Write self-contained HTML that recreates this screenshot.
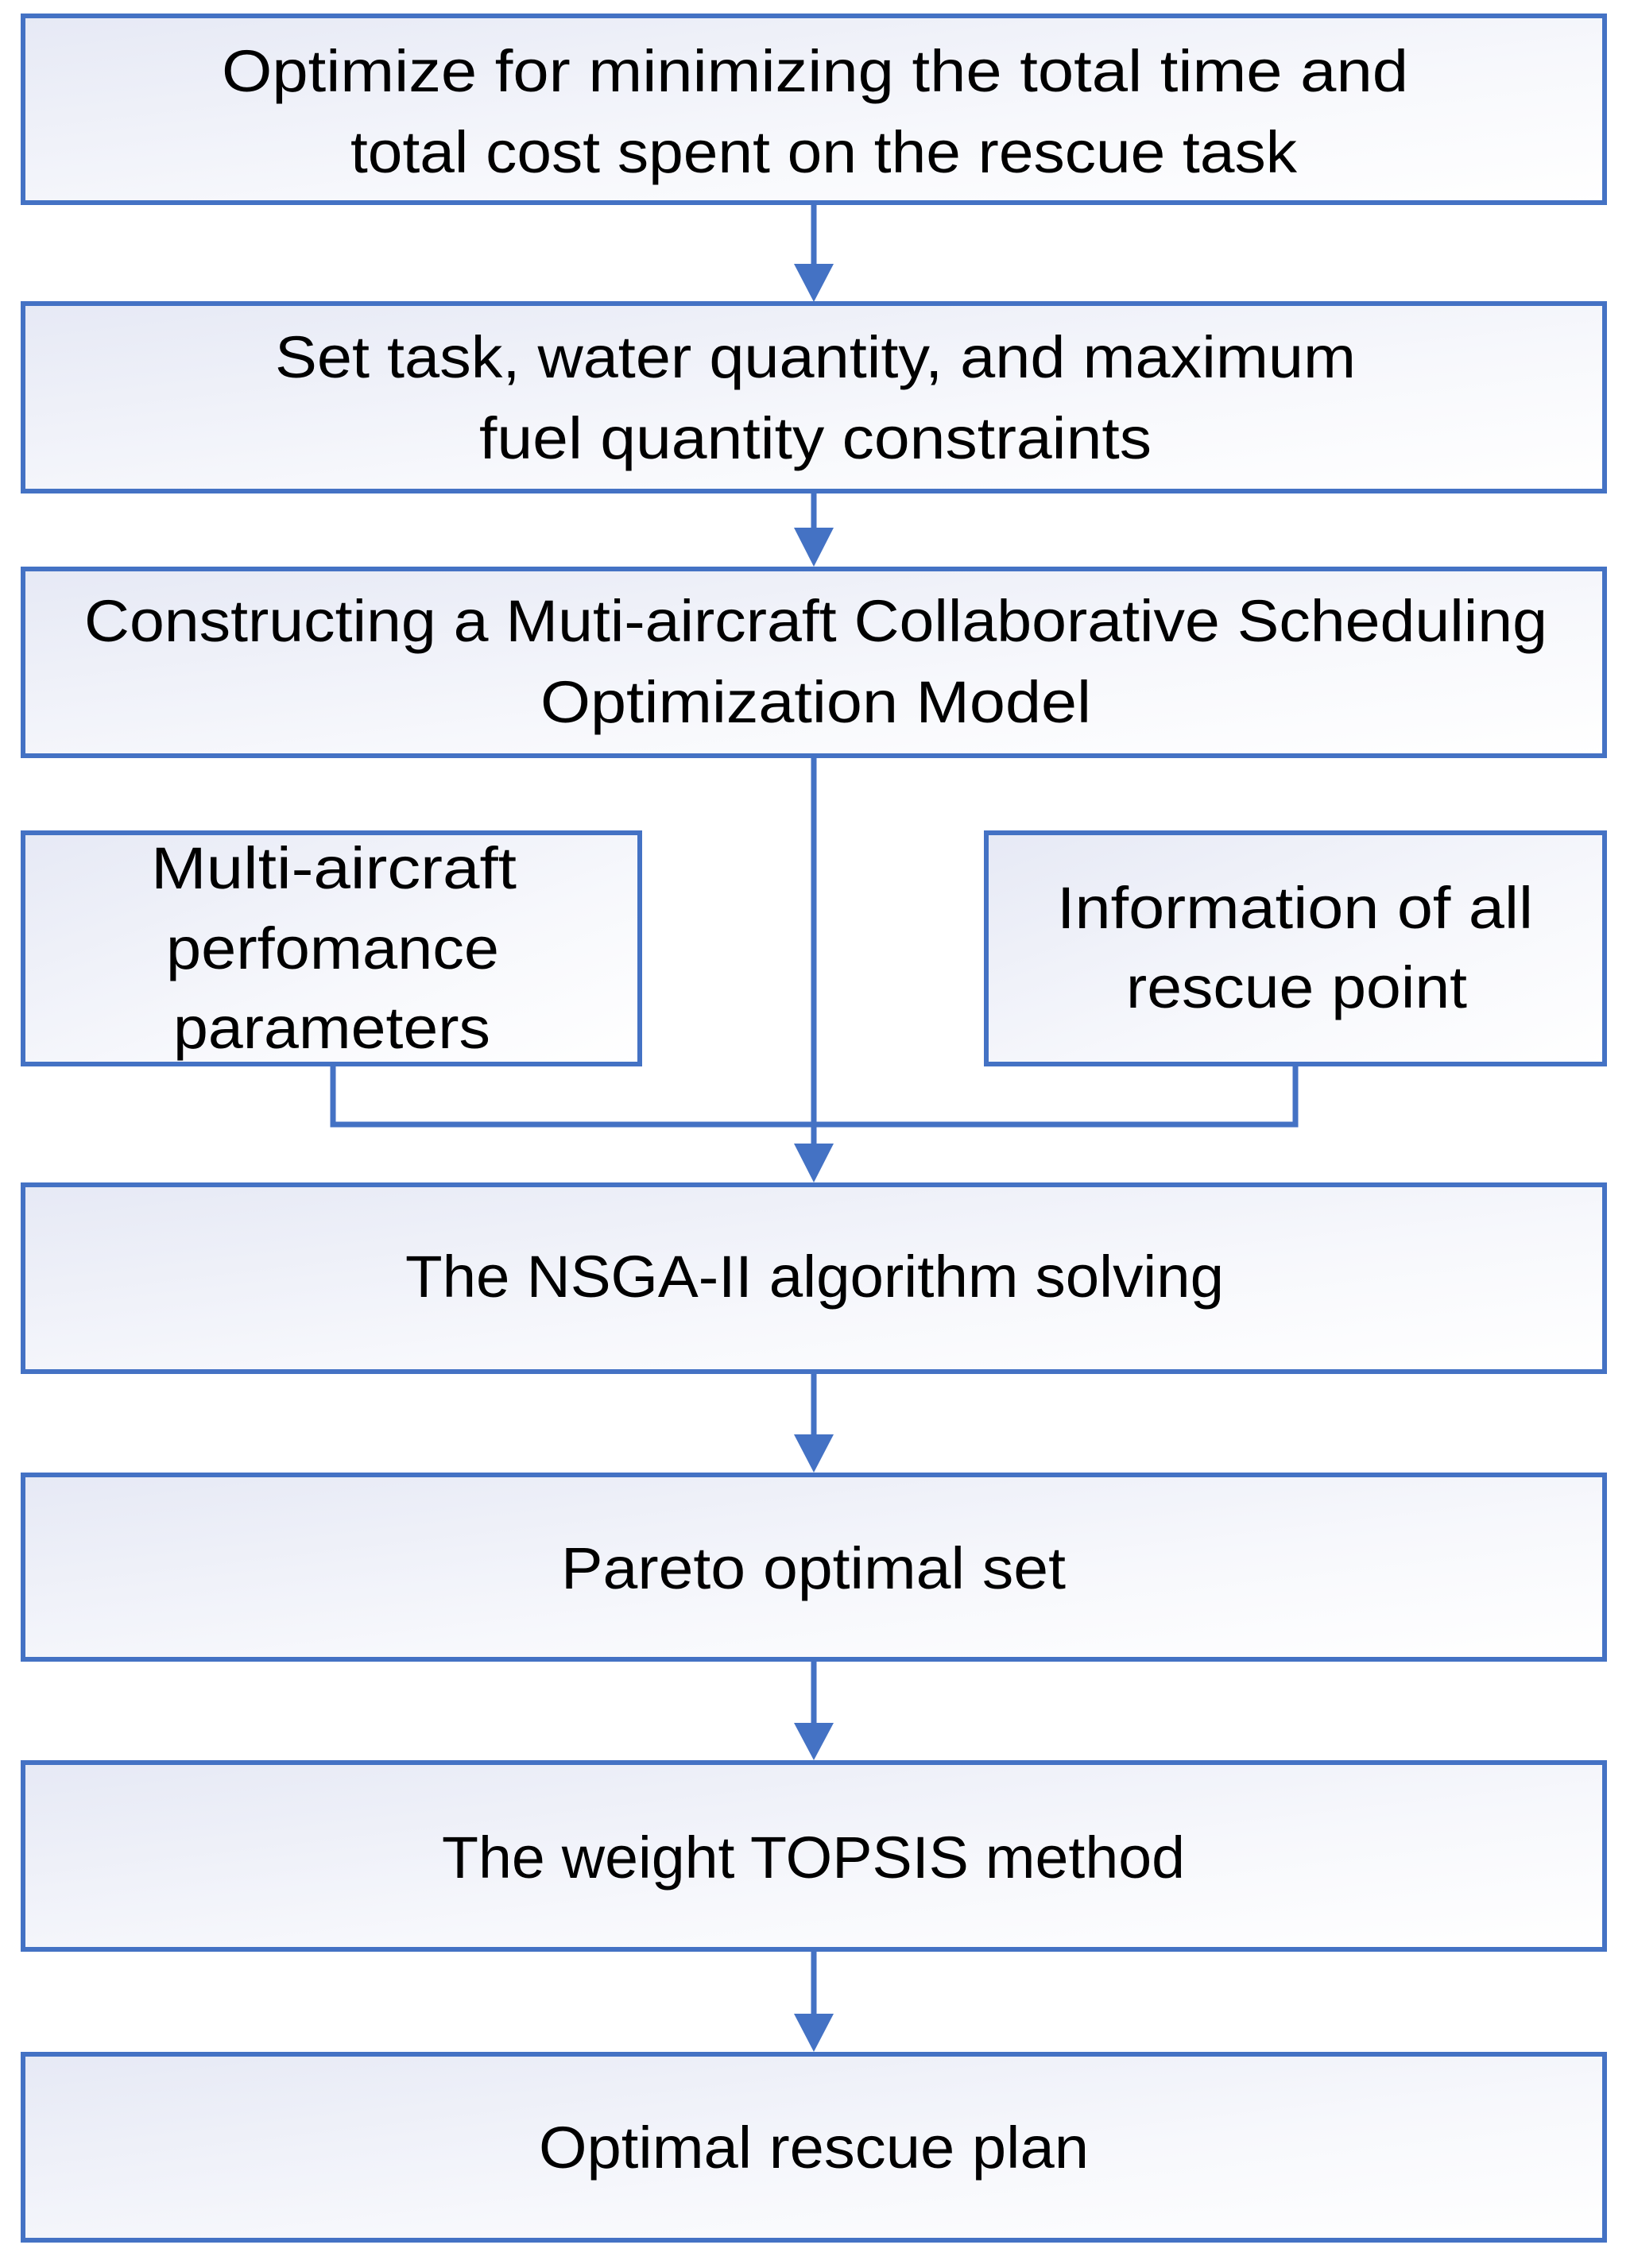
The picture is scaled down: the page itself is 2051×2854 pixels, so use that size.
<!DOCTYPE html>
<html><head><meta charset="utf-8"><style>html,body{margin:0;padding:0;background:#fff}svg{display:block}</style></head>
<body>
<svg width="2051" height="2854" viewBox="0 0 2051 2854" xmlns="http://www.w3.org/2000/svg" font-family="Liberation Sans, Arial, sans-serif" font-size="74" fill="#000">
<defs>
<linearGradient id="g" x1="0" y1="0" x2="1" y2="1">
<stop offset="0" stop-color="#e6e9f5"/><stop offset="0.6" stop-color="#f7f8fc"/><stop offset="1" stop-color="#ffffff"/>
</linearGradient>
</defs>
<g stroke="#4472c4" stroke-width="6" fill="url(#g)">
<rect x="29" y="20" width="1990" height="235"/>
<rect x="29" y="382" width="1990" height="236"/>
<rect x="29" y="716" width="1990" height="235"/>
<rect x="29" y="1048" width="776" height="291"/>
<rect x="1241" y="1048" width="778" height="291"/>
<rect x="29" y="1491" width="1990" height="235"/>
<rect x="29" y="1856" width="1990" height="232"/>
<rect x="29" y="2218" width="1990" height="235"/>
<rect x="29" y="2585" width="1990" height="234"/>
</g>
<g stroke="#4472c4" stroke-width="7" fill="none">
<line x1="1024" y1="258" x2="1024" y2="340"/>
<line x1="1024" y1="621" x2="1024" y2="670"/>
<line x1="1024" y1="954" x2="1024" y2="1445"/>
<polyline points="419,1342 419,1415 1630,1415 1630,1342"/>
<line x1="1024" y1="1729" x2="1024" y2="1810"/>
<line x1="1024" y1="2091" x2="1024" y2="2175"/>
<line x1="1024" y1="2456" x2="1024" y2="2540"/>
</g>
<g fill="#4472c4">
<polygon points="999,332 1049,332 1024,380"/>
<polygon points="999,664 1049,664 1024,713"/>
<polygon points="999,1439 1049,1439 1024,1488"/>
<polygon points="999,1805 1049,1805 1024,1853"/>
<polygon points="999,2168 1049,2168 1024,2215"/>
<polygon points="999,2534 1049,2534 1024,2582"/>
</g>
<g lengthAdjust="spacingAndGlyphs">
<text x="279" y="115" textLength="1493" lengthAdjust="spacingAndGlyphs">Optimize for  minimizing the total time and</text>
<text x="441" y="217" textLength="1191" lengthAdjust="spacingAndGlyphs">total cost spent on the rescue task</text>
<text x="346" y="475" textLength="1360" lengthAdjust="spacingAndGlyphs">Set task, water quantity, and maximum</text>
<text x="603" y="577" textLength="846" lengthAdjust="spacingAndGlyphs">fuel quantity constraints</text>
<text x="106" y="807" textLength="1841" lengthAdjust="spacingAndGlyphs">Constructing a Muti-aircraft Collaborative Scheduling</text>
<text x="680" y="909" textLength="693" lengthAdjust="spacingAndGlyphs">Optimization Model</text>
<text x="190" y="1118" textLength="460" lengthAdjust="spacingAndGlyphs">Multi-aircraft</text>
<text x="209" y="1219" textLength="419" lengthAdjust="spacingAndGlyphs">perfomance</text>
<text x="218" y="1319" textLength="399" lengthAdjust="spacingAndGlyphs">parameters</text>
<text x="1330" y="1168" textLength="599" lengthAdjust="spacingAndGlyphs">Information of all</text>
<text x="1417" y="1268" textLength="429" lengthAdjust="spacingAndGlyphs">rescue point</text>
<text x="510" y="1632" textLength="1030" lengthAdjust="spacingAndGlyphs">The NSGA-II algorithm solving</text>
<text x="706" y="1999" textLength="635" lengthAdjust="spacingAndGlyphs">Pareto optimal set</text>
<text x="556" y="2363" textLength="935" lengthAdjust="spacingAndGlyphs">The weight TOPSIS method</text>
<text x="678" y="2728" textLength="692" lengthAdjust="spacingAndGlyphs">Optimal rescue plan</text>
</g>
</svg>
</body></html>
